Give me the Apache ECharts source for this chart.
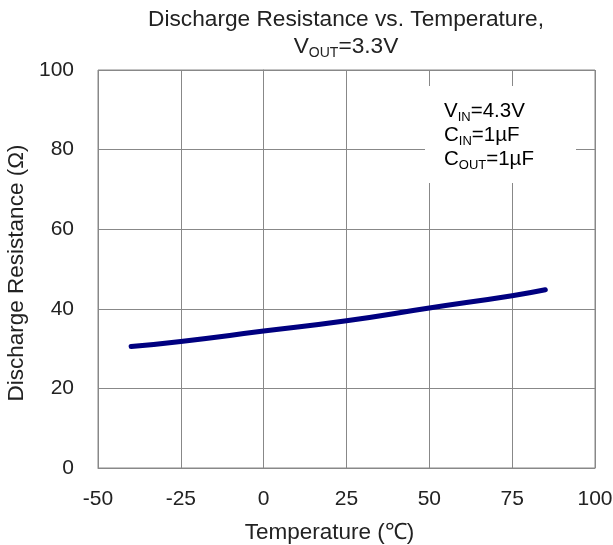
<!DOCTYPE html>
<html><head><meta charset="utf-8">
<script src="https://cdn.jsdelivr.net/npm/echarts@6/dist/echarts.min.js"></script>
<style>html,body{margin:0;padding:0;background:#fff}#c{width:613px;height:545px}</style>
</head><body><div id="c"></div>
<script>
var temps = [-40, -25, 0, 25, 50, 75, 85];
var resistance = [30.5, 31.8, 34.4, 37.0, 40.2, 43.3, 44.8];
var xTicks = [-50, -25, 0, 25, 50, 75, 100];
var yTicks = [0, 20, 40, 60, 80, 100];

var chart = echarts.init(document.getElementById('c'));
var ff = 'Liberation Sans, Arial, sans-serif';
var txt = '#222';
var main = {fontSize: 22.7, fontFamily: ff, color: txt, lineHeight: 27, fontWeight: 'normal'};
var sub = {fontSize: 14, fontFamily: ff, color: txt, verticalAlign: 'bottom', lineHeight: 27, padding: [10, 0, 0, 0], fontWeight: 'normal'};
chart.setOption({
  animation: false,
  grid: {left: 98, right: 18, top: 70, bottom: 77, show: true, borderColor: '#888', borderWidth: 1, outerBoundsMode: 'none', containLabel: false},
  title: {
    text: '{m|Discharge Resistance vs. Temperature,}\n{m|V}{s|OUT}{m|=3.3V}',
    left: 341, top: 1, textAlign: 'center',
    textStyle: {fontWeight: 'normal', rich: {m: main, s: sub}}
  },
  xAxis: {
    type: 'value', min: -50, max: 100, interval: 25,
    name: 'Temperature (℃)', nameLocation: 'middle', nameGap: 53,
    nameTextStyle: {fontSize: 22.5, fontFamily: ff, color: txt, padding: [0, 34, 0, 0]},
    axisLine: {show: true, lineStyle: {color: '#888'}},
    axisTick: {show: false},
    axisLabel: {fontSize: 21, fontFamily: ff, color: txt, margin: 21},
    splitLine: {show: true, lineStyle: {color: '#888', width: 1}}
  },
  yAxis: {
    type: 'value', min: 0, max: 100, interval: 20,
    name: 'Discharge Resistance (Ω)', nameLocation: 'middle', nameGap: 65,
    nameTextStyle: {fontSize: 22.5, fontFamily: ff, color: txt, padding: [0, 8, 0, 0]},
    axisLine: {show: true, lineStyle: {color: '#888'}},
    axisTick: {show: false},
    axisLabel: {fontSize: 21, fontFamily: ff, color: txt, margin: 24},
    splitLine: {show: true, lineStyle: {color: '#888', width: 1}}
  },
  graphic: [
    {type: 'rect', shape: {x: 425, y: 86, width: 151, height: 97}, style: {fill: '#fff'}, z: 10},
    {type: 'text', left: 444, top: 101, z: 11, style: {text: '{m|V}{s|IN}{m|=4.3V}\n{m|C}{s|IN}{m|=1µF}\n{m|C}{s|OUT}{m|=1µF}', rich: {m: {fontSize: 20.5, fontFamily: ff, color: txt, lineHeight: 24}, s: {fontSize: 13, fontFamily: ff, color: txt, verticalAlign: 'bottom', lineHeight: 24, padding: [9,0,0,0]}}}}
  ],
  series: [{
    type: 'line', data: temps.map(function (t, i) { return [t, resistance[i]]; }),
    smooth: true, symbol: 'none',
    lineStyle: {color: '#000080', width: 5, cap: 'round'}
  }]
});
</script></body></html>
